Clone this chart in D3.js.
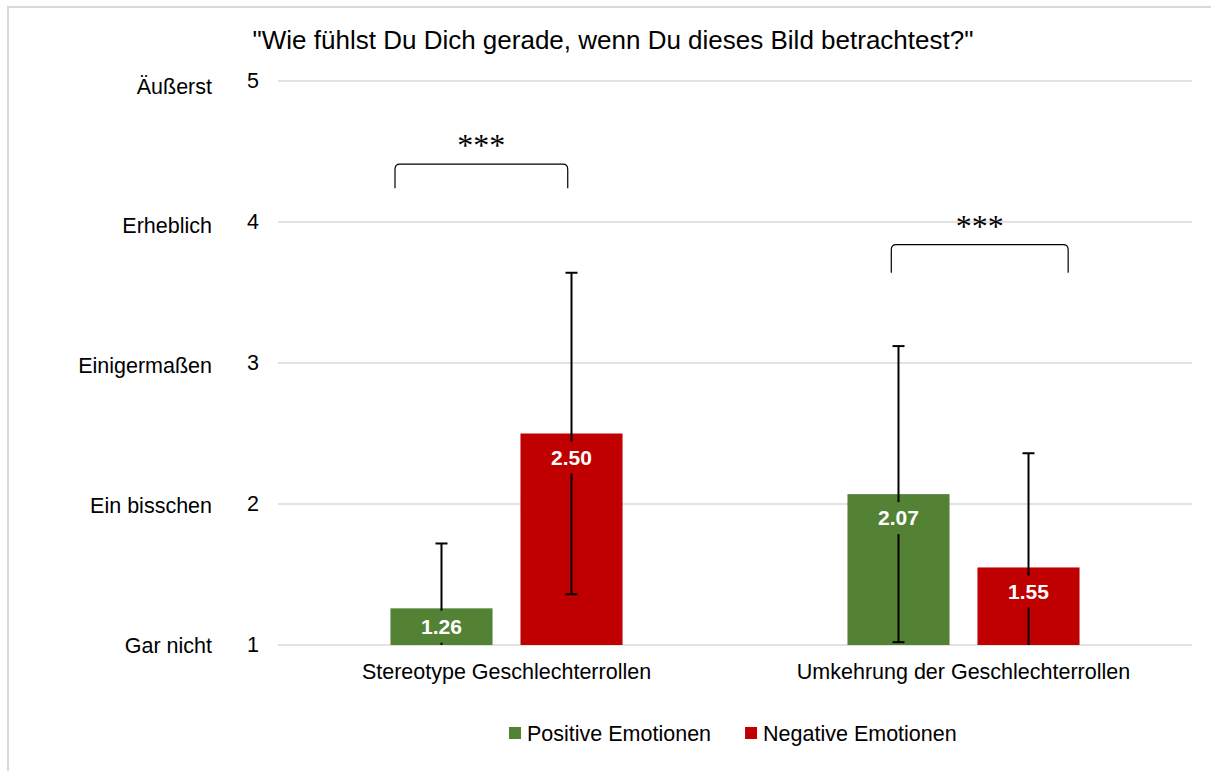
<!DOCTYPE html>
<html>
<head>
<meta charset="utf-8">
<script src="https://cdn.jsdelivr.net/npm/d3@7"></script>
<style>
  body { margin: 0; background: #fff; }
  svg { font-family: "Liberation Sans", Arial, sans-serif; }
</style>
</head>
<body>
<div id="chart"></div>
<script>
// data
const categories = ["Stereotype Geschlechterrollen", "Umkehrung der Geschlechterrollen"];
const series = ["Positive Emotionen", "Negative Emotionen"];
const colors = ["#548235", "#C00000"];
const means = [[1.26, 2.50], [2.07, 1.55]];
const sds = [[0.46, 1.14], [1.05, 0.81]];
const tickValues = [1, 2, 3, 4, 5];
const tickNames = ["Gar nicht", "Ein bisschen", "Einigermaßen", "Erheblich", "Äußerst"];
const sig = [
    { cat: 0, label: "***", top: 4.41, leg: 4.24, from: -0.244, to: 0.134 },
    { cat: 1, label: "***", top: 3.84, leg: 3.64, from: -0.158, to: 0.229 }
];

const width = 1211, height = 771;
const margin = { left: 278, right: 19, top: 81, bottom: 126 };
const fs = 21.5;

const svg = d3.select("#chart").append("svg")
    .attr("width", width)
    .attr("height", height);

// outer frame
svg.append("rect")
    .attr("x", 8).attr("y", 7)
    .attr("width", width).attr("height", height)
    .attr("fill", "none")
    .attr("stroke", "#d9d9d9")
    .attr("stroke-width", 2);

const y = d3.scaleLinear().domain([1, 5]).range([height - margin.bottom, margin.top]);
// the verbal labels sit on a slightly shorter scale than the numbers
const yNames = d3.scaleLinear().domain([1, 5]).range([height - margin.bottom, margin.top + 5]);
const x0 = d3.scaleBand().domain(categories).range([margin.left, width - margin.right]);
const x1 = d3.scaleBand().domain(series).range([0, x0.bandwidth()])
    .paddingInner(0.215).paddingOuter(0.865);

// gridlines
svg.append("g")
    .selectAll("line")
    .data(tickValues)
    .enter().append("line")
    .attr("x1", margin.left).attr("x2", width - margin.right)
    .attr("y1", d => y(d)).attr("y2", d => y(d))
    .attr("stroke", "#d9d9d9")
    .attr("stroke-width", 1.5);

// y axis numbers
const yAxis = d3.axisLeft(y).tickValues(tickValues).tickFormat(d3.format("d")).tickSize(0).tickPadding(19);
const ya = svg.append("g").attr("transform", `translate(${margin.left},0)`).call(yAxis);
ya.select(".domain").remove();
ya.selectAll("text")
    .attr("font-size", fs)
    .attr("fill", "#000")
    .attr("font-family", "Liberation Sans, Arial, sans-serif");

// y axis names
svg.append("g")
    .selectAll("text")
    .data(tickValues)
    .enter().append("text")
    .attr("x", 212)
    .attr("y", d => yNames(d))
    .attr("dy", "0.35em")
    .attr("text-anchor", "end")
    .attr("font-size", fs)
    .text((d, i) => tickNames[i]);

// title
svg.append("text")
    .attr("x", 613).attr("y", 49)
    .attr("text-anchor", "middle")
    .attr("font-size", 26)
    .text('"Wie fühlst Du Dich gerade, wenn Du dieses Bild betrachtest?"');

// bars
const rows = [];
categories.forEach((c, ci) => series.forEach((s, si) => {
    rows.push({ cat: c, ser: s, si, mean: means[ci][si], sd: sds[ci][si] });
}));
const bx = d => x0(d.cat) + x1(d.ser);

svg.append("g")
    .selectAll("rect")
    .data(rows)
    .enter().append("rect")
    .attr("x", bx)
    .attr("y", d => y(d.mean))
    .attr("width", x1.bandwidth())
    .attr("height", d => y(1) - y(d.mean))
    .attr("fill", d => colors[d.si]);

// error bars (clipped at axis minimum)
const eg = svg.append("g").attr("stroke", "#000").attr("stroke-width", 2);
rows.forEach(d => {
    const cx = bx(d) + x1.bandwidth() / 2;
    const hi = d.mean + d.sd, lo = Math.max(1, d.mean - d.sd);
    eg.append("line").attr("x1", cx).attr("x2", cx).attr("y1", y(hi)).attr("y2", y(lo));
    eg.append("line").attr("x1", cx - 6).attr("x2", cx + 6).attr("y1", y(hi)).attr("y2", y(hi));
    if (d.mean - d.sd >= 1) {
        eg.append("line").attr("x1", cx - 6).attr("x2", cx + 6).attr("y1", y(lo)).attr("y2", y(lo));
    }
});

// value labels
const lg = svg.append("g");
rows.forEach(d => {
    const cx = bx(d) + x1.bandwidth() / 2;
    const top = y(d.mean), bot = y(1);
    const ly = Math.min(top + 24, (top + bot) / 2);
    const lab = d3.format(".2f")(d.mean);
    lg.append("rect")
        .attr("x", cx - 26).attr("y", ly - 16)
        .attr("width", 52).attr("height", 32)
        .attr("fill", colors[d.si]);
    lg.append("text")
        .attr("x", cx).attr("y", ly)
        .attr("dy", "0.35em")
        .attr("text-anchor", "middle")
        .attr("font-size", 21)
        .attr("font-weight", "bold")
        .attr("fill", "#fff")
        .text(lab);
});

// category labels
svg.append("g")
    .selectAll("text")
    .data(categories)
    .enter().append("text")
    .attr("x", d => x0(d) + x0.bandwidth() / 2)
    .attr("y", y(1) + 34)
    .attr("text-anchor", "middle")
    .attr("font-size", fs)
    .text(d => d);

// significance brackets
sig.forEach(s => {
    const c = x0(categories[s.cat]) + x0.bandwidth() / 2;
    const xa = c + s.from * x0.bandwidth(), xb = c + s.to * x0.bandwidth();
    const yt = y(s.top), yl = y(s.leg);
    const r = 5;
    svg.append("path")
        .attr("d", `M${xa},${yl} L${xa},${yt + r} Q${xa},${yt} ${xa + r},${yt} L${xb - r},${yt} Q${xb},${yt} ${xb},${yt + r} L${xb},${yl}`)
        .attr("fill", "none")
        .attr("stroke", "#000")
        .attr("stroke-width", 1.2);
    svg.append("text")
        .attr("x", (xa + xb) / 2)
        .attr("y", yt - 8)
        .attr("text-anchor", "middle")
        .attr("font-family", "Liberation Serif, Times New Roman, serif")
        .attr("font-size", 32)
        .text(s.label);
});

// legend
const legend = svg.append("g").attr("transform", "translate(509,733)");
let lx = 0;
series.forEach((s, i) => {
    const item = legend.append("g").attr("transform", `translate(${lx},0)`);
    item.append("rect").attr("x", 0).attr("y", -6).attr("width", 12).attr("height", 12).attr("fill", colors[i]);
    const t = item.append("text").attr("x", 18).attr("y", 0).attr("dy", "0.35em")
        .attr("font-size", fs).text(s);
    lx += 18 + t.node().getComputedTextLength() + 34;
});
</script>
</body>
</html>
